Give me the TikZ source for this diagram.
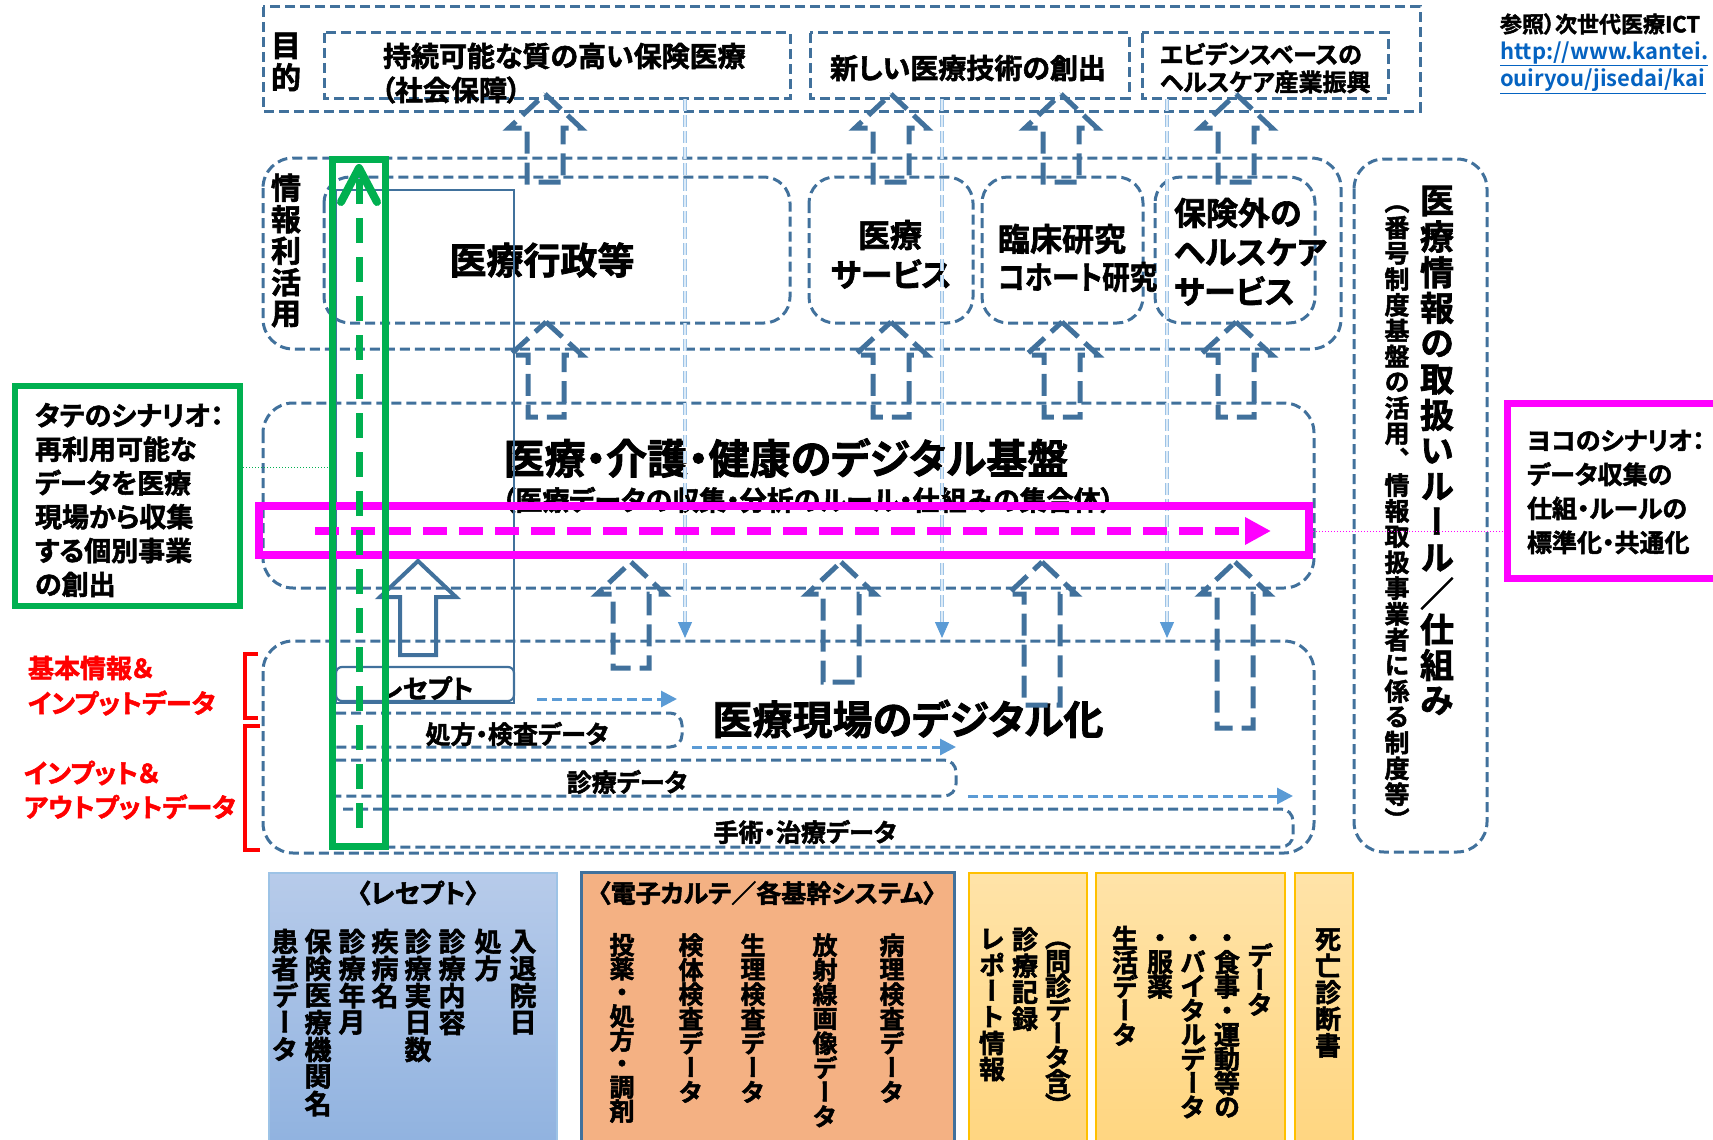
\documentclass[tikz,border=0pt]{standalone}
\usepackage{fontspec}
\usepackage{graphicx}
\setmainfont{Noto Sans CJK JP}
\newfontfamily\jpb{Noto Sans CJK JP Bold}[RawFeature=+palt, FakeBold=2]
\newfontfamily\jpv{Noto Sans CJK JP Bold}[RawFeature=+vert, FakeBold=2]
\newfontfamily\jpl{Noto Sans CJK JP Bold}[RawFeature=+palt]
\usetikzlibrary{arrows.meta}
\definecolor{dblue}{HTML}{41719C}
\definecolor{lblue}{HTML}{5B9BD5}
\definecolor{vlblue}{HTML}{9DC3E6}
\definecolor{vvl}{HTML}{DDEBF7}
\definecolor{gbar}{HTML}{00B050}
\definecolor{pink}{HTML}{FF00FF}
\definecolor{linkc}{HTML}{0563C1}
\definecolor{rtop}{HTML}{B7CBEA}
\definecolor{rbot}{HTML}{8EB1DF}
\definecolor{ehr}{HTML}{F4B183}
\definecolor{ytop}{HTML}{FFE3A8}
\definecolor{ybot}{HTML}{FFD57E}
\definecolor{ybord}{HTML}{FFC000}
\newcommand\fsz[1]{\fontsize{#1}{#1}\selectfont}
\newdimen\vtstep
\def\vtend{\relax}
\def\vtloop#1{\ifx#1\vtend\else\vbox to\vtstep{\vss\hbox to\vtstep{\hss\vphantom{国}#1\hss}\vss}\expandafter\vtloop\fi}
\newcommand\vcol[2][1]{\vbox{\vtstep=#1em\relax\offinterlineskip\expandafter\vtloop#2\vtend}}
% hollow up arrow: style, x, tip y, head base y, bottom y, head half width
\newcommand\hup[6]{\draw[#1] (#2,#3) -- ({#2+#6},#4) -- ({#2+18},#4) -- ({#2+18},#5) -- ({#2-18},#5) -- ({#2-18},#4) -- ({#2-#6},#4) -- cycle;}
\begin{document}
\begin{tikzpicture}[x=1pt,y=-1pt,
  sbox/.style={draw=dblue, line width=3pt, dash pattern=on 10pt off 5pt},
  obox/.style={sbox, rounded corners=30pt},
  ibox/.style={sbox, rounded corners=26pt},
  band/.style={sbox, rounded corners=12pt},
  harrow/.style={draw=dblue, line width=5pt, dash pattern=on 22pt off 9pt, line join=miter},
  larrow/.style={draw=lblue, line width=3pt, dash pattern=on 10pt off 5pt, -{Triangle[length=16pt,width=16pt]}},
  tline/.style={draw=vlblue, double=vvl, double distance=1.2pt, line width=1pt, dash pattern=on 12pt off 4pt, -{Triangle[length=16pt,width=14pt,color=lblue,fill=lblue]}},
  txt/.style={inner sep=0pt, outer sep=0pt},
  vt/.style={inner sep=0pt, outer sep=0pt, anchor=north}
]
\useasboundingbox (0,0) rectangle (1713,1140);
\clip (0,0) rectangle (1713,1140);

% ---------- bottom panels ----------
\draw[top color=rtop, bottom color=rbot, draw=vlblue, line width=1.5pt] (269,873) rectangle (557,1160);
\draw[fill=ehr, draw=dblue, line width=3pt] (581,872) rectangle (954,1160);
\draw[top color=ytop, bottom color=ybot, draw=ybord, line width=1.5pt] (969,873) rectangle (1087,1160);
\draw[top color=ytop, bottom color=ybot, draw=ybord, line width=1.5pt] (1096,873) rectangle (1285,1160);
\draw[top color=ytop, bottom color=ybot, draw=ybord, line width=1.5pt] (1295,873) rectangle (1353,1160);

\node[txt, font=\jpb\fsz{26}] (rtitle) at (418,893) {〈レセプト〉};
\node[txt, font=\jpb\fsz{25}] (etitle) at (767,893) {〈電子カルテ／各基幹システム〉};

\begin{scope}[every node/.style={vt, font=\jpv\fsz{27}}]
\node (r1) at (523,928) {\vcol{入退院日}};
\node (r2) at (488,928) {\vcol{処方}};
\node (r3) at (452,928) {\vcol{診療内容}};
\node (r4) at (418,928) {\vcol{診療実日数}};
\node (r5) at (385,928) {\vcol{疾病名}};
\node (r6) at (352,928) {\vcol{診療年月}};
\node (r7) at (318,928) {\vcol{保険医療機関名}};
\node (r8) at (285,928) {\vcol{患者データ}};
\end{scope}
\begin{scope}[every node/.style={vt, font=\jpv\fsz{25}}]
\node (e1) at (892,933) {\vcol[0.98]{病理検査データ}};
\node (e2) at (825,933) {\vcol[0.98]{放射線画像データ}};
\node (e3) at (753,933) {\vcol[0.98]{生理検査データ}};
\node (e4) at (691,933) {\vcol[0.98]{検体検査データ}};
\node (e5) at (622,933) {\vcol[0.95]{投薬・処方・調剤}};
\end{scope}
\begin{scope}[every node/.style={vt, font=\jpv\fsz{26}}]
\node (m1) at (1058,926) {\vcol[0.92]{（問診データ含）}};
\node (m2) at (1025,926) {\vcol[1.02]{診療記録}};
\node (m3) at (992,926) {\vcol[1.0]{レポート情報}};
\node (l1) at (1260,943) {\vcol[0.95]{データ}};
\node (l2) at (1227,926) {\vcol[0.93]{・食事・運動等の}};
\node (l3) at (1193,926) {\vcol[0.93]{・バイタルデータ}};
\node (l4) at (1160,926) {\vcol[0.93]{・服薬}};
\node (l5) at (1125,926) {\vcol[0.93]{生活データ}};
\node (d1) at (1328,926) {\vcol[1.02]{死亡診断書}};
\end{scope}

% ---------- purpose row ----------
\draw[sbox] (263,7) rectangle (1420,111);
\node[vt, font=\jpv\fsz{30}] (mokuteki) at (286,30) {\vcol[1.05]{目的}};
\draw[sbox] (324,33) rectangle (790,98);
\draw[sbox] (810,33) rectangle (1129,98);
\draw[sbox] (1142,33) rectangle (1388,98);
\node[txt, font=\jpb\fsz{28}, anchor=west] (p1a) at (383,56) {持続可能な質の高い保険医療};
\node[txt, font=\jpb\fsz{28}, anchor=west] (p1b) at (381,90) {（社会保障）};
\node[txt, font=\jpb\fsz{28}] (p2) at (968,68) {新しい医療技術の創出};
\node[txt, font=\jpb\fsz{24}, anchor=west] (p3a) at (1160,54) {エビデンスベースの};
\node[txt, font=\jpb\fsz{24}, anchor=west] (p3b) at (1160,82) {ヘルスケア産業振興};

% reference text
\node[txt, font=\jpb\fsz{22}, anchor=west] (refa) at (1500,24) {参照）次世代医療ICT};
\node[txt, font=\jpl\fsz{22}, text=linkc, anchor=west] (url1) at (1500,54) {\underline{http://www.kantei.}};
\node[txt, font=\jpl\fsz{22}, text=linkc, anchor=west] (url2) at (1500,81) {\underline{ouiryou/jisedai/kai}};

% ---------- info utilisation row ----------
\draw[obox] (263,158) rectangle (1341,349);
\node[vt, font=\jpv\fsz{30}] (joho) at (286,172) {\vcol[1.05]{情報利活用}};
\draw[ibox] (324,177) rectangle (790,323);
\draw[ibox] (809,177) rectangle (973,323);
\draw[ibox] (982,177) rectangle (1143,323);
\draw[ibox] (1155,177) rectangle (1315,323);
\node[txt, font=\jpb\fsz{37}] (gyosei) at (542,260) {医療行政等};
\node[txt, font=\jpb\fsz{32}] (svc1) at (890,235) {医療};
\node[txt, font=\jpb\fsz{32}] (svc2) at (891,274) {サービス};
\node[txt, font=\jpb\fsz{32}, anchor=west] (rin1) at (998,239) {臨床研究};
\node[txt, font=\jpb\fsz{32}, anchor=west] (rin2) at (998,277) {\scalebox{0.86}[1]{コホート研究}};
\node[txt, font=\jpb\fsz{32}, anchor=west] (hc1) at (1174,213) {保険外の};
\node[txt, font=\jpb\fsz{32}, anchor=west] (hc2) at (1174,252) {ヘルスケア};
\node[txt, font=\jpb\fsz{32}, anchor=west] (hc3) at (1174,291) {サービス};

% ---------- right rule box ----------
\draw[obox] (1354,159) rectangle (1487,852);
\node[vt, font=\jpv\fsz{34}] (rule1) at (1437,183) {\vcol[1.05]{医療情報の取扱いルール／仕組み}};
\node[vt, font=\jpv\fsz{25}] (rule2) at (1397,189) {\vcol[1.03]{（番号制度基盤の活用、情報取扱事業者に係る制度等）}};

% ---------- platform ----------
\draw[obox] (263,403) rectangle (1314,588);
\node[txt, font=\jpb\fsz{41}] (plat) at (786,458) {医療・介護・健康のデジタル基盤};
\node[txt, font=\jpb\fsz{27}] (platsub) at (808,500) {（医療データの収集・分析のルール・仕組みの集合体）};

% ---------- field ----------
\draw[obox] (263,641) rectangle (1314,853);
\node[txt, font=\jpb\fsz{40}] (field) at (908,719) {医療現場のデジタル化};
\draw[dblue, line width=1.5pt] (336,190) rectangle (514,703);
\draw[dblue, line width=2.2pt, rounded corners=6pt] (336,667) rectangle (514,701);
\node[txt, font=\jpb\fsz{26}] (rcpt) at (426,688) {レセプト};
\draw[band] (336,713) -- (682,713) -- (682,747) -- (336,747);
\node[txt, font=\jpb\fsz{25}] (shoho) at (517,734) {処方・検査データ};
\draw[band] (336,760) -- (956,760) -- (956,796) -- (336,796);
\node[txt, font=\jpb\fsz{25}] (shinryo) at (627,782) {診療データ};
\draw[band] (343,809) -- (1293,809) -- (1293,847) -- (388,847);
\node[txt, font=\jpb\fsz{25}] (shujutsu) at (805,832) {手術・治療データ};
\draw[larrow] (537,699) -- (677,699);
\draw[larrow] (692,747) -- (956,747);
\draw[larrow] (968,796) -- (1293,796);

% thin dashed down lines
\draw[tline] (685,99) -- (685,638);
\draw[tline] (942,99) -- (942,638);
\draw[tline] (1167,99) -- (1167,638);

% hollow arrows
\hup{harrow}{545}{94}{128}{182}{36}
\hup{harrow}{891}{94}{128}{182}{36}
\hup{harrow}{1061}{94}{128}{182}{36}
\hup{harrow}{1236}{94}{128}{182}{36}
\hup{harrow}{546}{322}{355}{417}{36}
\hup{harrow}{891}{322}{355}{417}{36}
\hup{harrow}{1062}{322}{355}{417}{36}
\hup{harrow}{1236}{322}{355}{417}{36}
\hup{harrow}{631}{562}{594}{668}{34}
\hup{harrow}{841}{562}{594}{682}{34}
\hup{harrow}{1042}{562}{594}{705}{34}
\hup{harrow}{1235}{562}{594}{728}{34}
\hup{draw=dblue, line width=4pt, line join=miter}{418}{561}{597}{655}{38}

% ---------- pink horizontal scenario ----------
\draw[pink, line width=8pt] (259,506) rectangle (1309,555);
\draw[pink, line width=8pt, dash pattern=on 24pt off 12pt, -{Triangle[length=26pt,width=26pt]}] (315,531) -- (1271,531);
\draw[pink, line width=1pt, dotted] (1313,531) -- (1504,531);
\draw[pink, line width=7pt] (1507,403) rectangle (1740,578);
\node[txt, anchor=west, align=left, font=\jpb\fontsize{25}{34}\selectfont] (yoko) at (1527,492) {ヨコのシナリオ：\\データ収集の\\仕組・ルールの\\標準化・共通化};

% ---------- green vertical scenario ----------
\draw[gbar, line width=7pt] (332,159) rectangle (385,846);
\draw[gbar, line width=7pt, dash pattern=on 25pt off 14pt] (359,828) -- (359,174);
\draw[gbar, line width=8pt, line cap=round, line join=round] (341,202) -- (359,168) -- (377,202);
\draw[gbar, line width=6pt] (15,386) rectangle (240,606);
\node[txt, anchor=west, align=left, font=\jpb\fontsize{27}{33.8}\selectfont] (tate) at (35,500) {タテのシナリオ：\\再利用可能な\\データを医療\\現場から収集\\する個別事業\\の創出};
\draw[gbar, line width=1pt, dotted] (243,467) -- (328,467);

% ---------- red labels ----------
\node[txt, anchor=west, text=red, font=\jpb\fsz{26}] (kihon1) at (28,668) {基本情報＆};
\node[txt, anchor=west, text=red, font=\jpb\fsz{26}] (kihon2) at (28,703) {インプットデータ};
\node[txt, anchor=west, text=red, font=\jpb\fsz{26}] (io1) at (24,773) {インプット＆};
\node[txt, anchor=west, text=red, font=\jpb\fsz{26}] (io2) at (24,807) {アウトプットデータ};
\draw[red, line width=4pt] (258,654) -- (245,654) -- (245,718) -- (258,718);
\draw[red, line width=4pt] (260,726) -- (245,726) -- (245,850) -- (260,850);
\end{tikzpicture}
\end{document}
